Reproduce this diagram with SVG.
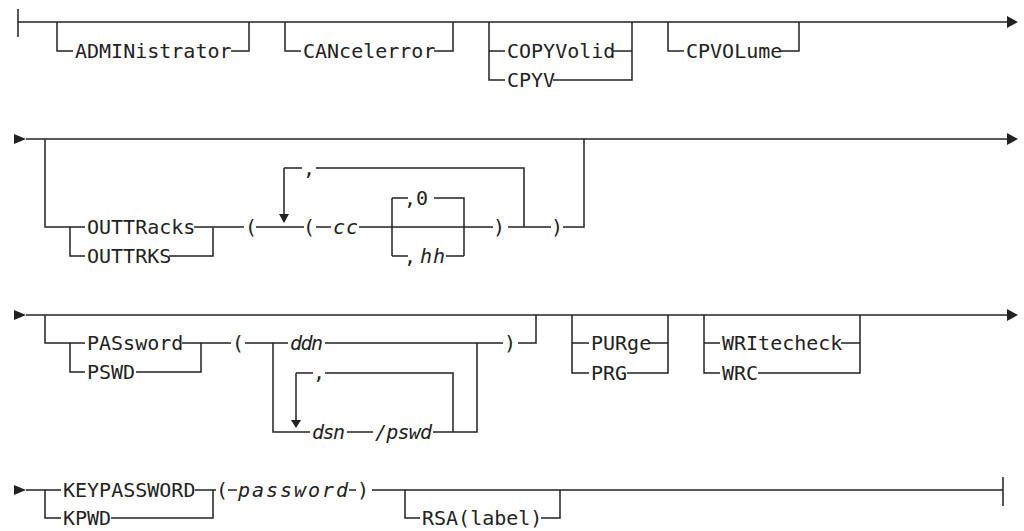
<svg xmlns="http://www.w3.org/2000/svg" width="1024" height="531" viewBox="0 0 1024 531">
<style>
.l{fill:none;stroke:#222;stroke-width:1.5}
.t{font-family:"DejaVu Sans Mono","Liberation Mono",monospace;font-size:20px;fill:#222}
.i{font-family:"DejaVu Sans Mono","Liberation Mono",monospace;font-size:20px;font-style:italic;fill:#222}
.a{fill:#222}
</style>
<rect width="1024" height="531" fill="#fff"/>
<g id="connectors">
<!-- row 1 -->
<path class="l" d="M18,9V37M18,22H1008"/>
<polygon class="a" points="1007,16 1018,22 1007,28"/>
<path class="l" d="M57,22V51H73M231,51H249V22"/>
<path class="l" d="M285,22V51H301M434,51H453V22"/>
<path class="l" d="M489,22V80H505M489,51H505M612,51H632M553,80H632V22"/>
<path class="l" d="M668,22V51H684M780,51H799V22"/>
<!-- row 2 -->
<polygon class="a" points="14,134 26,139 14,144"/>
<path class="l" d="M26,139H1008"/>
<polygon class="a" points="1007,133 1018,139 1007,145"/>
<path class="l" d="M45,139V227H70M70,227V256H85M70,227H85M194,227H213M169,256H213V227M213,227H244"/>
<path class="l" d="M256,227H304M284,168V215M284,168H302M316,168H524V227"/>
<polygon class="a" points="279,214 289,214 284,223"/>
<path class="l" d="M316,227H331M359,227H493"/>
<path class="l" d="M392,198V256M392,198H408M434,198H464V256M392,256H408M446,256H464"/>
<path class="l" d="M508,227H551M563,227H584V139"/>
<!-- row 3 -->
<polygon class="a" points="14,310 26,315 14,320"/>
<path class="l" d="M26,315H1008"/>
<polygon class="a" points="1007,309 1018,315 1007,321"/>
<path class="l" d="M45,315V343H70M70,343V372H85M70,343H85M182,343H201M136,372H201V343M201,343H231"/>
<path class="l" d="M245,343H288M325,343H503M518,343H536V315"/>
<path class="l" d="M273,343V432H310M347,432H373M433,432H477V343"/>
<path class="l" d="M296,373V421M296,373H313M325,373H453V432"/>
<polygon class="a" points="291,420 301,420 296,428"/>
<path class="l" d="M572,315V373H589M572,343H589M649,343H668M627,373H668V315"/>
<path class="l" d="M704,315V373H720M704,343H720M841,343H860M758,373H860V315"/>
<!-- row 4 -->
<polygon class="a" points="14,485 26,490 14,495"/>
<path class="l" d="M26,490H61M45,490V518H61M195,490H216M111,518H213V490"/>
<path class="l" d="M228,490H237M349,490H356M372,490H1003M1003,477V506"/>
<path class="l" d="M405,490V518H420M541,518H560V490"/>
</g>
<g id="n_admin"><text class="t" x="75" y="58">ADMINistrator</text></g>
<g id="n_cancel"><text class="t" x="303" y="58">CANcelerror</text></g>
<g id="n_copyv"><text class="t" x="507" y="58">COPYVolid</text><text class="t" x="507" y="87">CPYV</text></g>
<g id="n_cpvol"><text class="t" x="686" y="58">CPVOLume</text></g>
<g id="n_outtr"><text class="t" x="87" y="234">OUTTRacks</text><text class="t" x="87" y="263">OUTTRKS</text></g>
<g id="n_outparen"><text class="t" x="245" y="234">(</text><text class="t" x="303" y="175">,</text><text class="t" x="303" y="234">(</text></g>
<g id="n_cc"><text class="i" x="333" y="234" textLength="25">cc</text></g>
<g id="n_hh"><text class="t" x="404" y="205">,0</text><text class="t" x="404" y="263">,</text><text class="i" x="420" y="263" textLength="25">hh</text></g>
<g id="n_outclose"><text class="t" x="493" y="234">)</text><text class="t" x="551" y="234">)</text></g>
<g id="n_pass"><text class="t" x="87" y="350">PASsword</text><text class="t" x="87" y="379">PSWD</text></g>
<g id="n_passparen"><text class="t" x="232" y="350">(</text><text class="t" x="504" y="350">)</text><text class="t" x="313" y="379">,</text></g>
<g id="n_ddn"><text class="i" x="290" y="350" textLength="33">ddn</text></g>
<g id="n_dsn"><text class="i" x="312" y="439" textLength="33">dsn</text><text class="i" x="375" y="439" textLength="57">/pswd</text></g>
<g id="n_purge"><text class="t" x="591" y="350">PURge</text><text class="t" x="591" y="380">PRG</text></g>
<g id="n_write"><text class="t" x="722" y="350">WRItecheck</text><text class="t" x="722" y="380">WRC</text></g>
<g id="n_keypw"><text class="t" x="63" y="497">KEYPASSWORD</text><text class="t" x="63" y="525">KPWD</text></g>
<g id="n_password"><text class="t" x="216" y="497">(</text><text class="i" x="238" y="497" textLength="110">password</text><text class="t" x="357" y="497">)</text></g>
<g id="n_rsa"><text class="t" x="422" y="525">RSA(label)</text></g>
</svg>
